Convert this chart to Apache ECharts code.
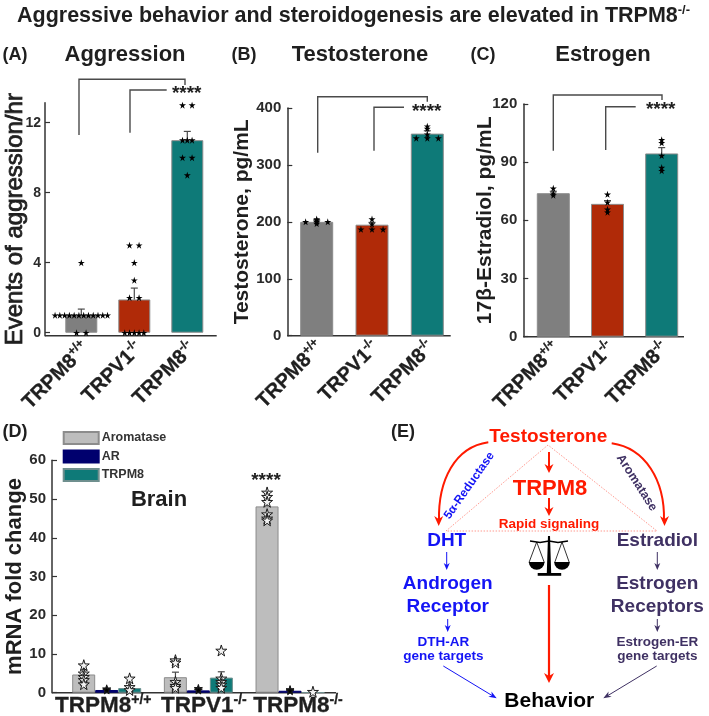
<!DOCTYPE html>
<html><head><meta charset="utf-8">
<style>html,body{margin:0;padding:0;background:#fff}#c{width:709px;height:716px}</style>
<script src="https://cdn.jsdelivr.net/npm/echarts@6/dist/echarts.min.js"></script>
</head><body><div id="c"></div>
<script>
// ---------- data ----------
const genotypes = ['TRPM8', 'TRPV1', 'TRPM8'];
const genotypeSup = ['+/+', '-/-', '-/-'];
const mainTitle = 'Aggressive behavior and steroidogenesis are elevated in ';

const aggressionMeans = [1, 1.9, 11];
const aggressionErrs = [0.35, 0.65, 0.5];
const aggressionWt = [4, 1, 1, 1, 1, 1, 1, 1, 1, 1, 1, 1, 1, 0, 0];
const aggressionV1 = [5, 5, 4, 3, 2, 2, 0, 0, 0, 0, 0];
const aggressionM8 = [13, 13, 11, 11, 11, 10, 10, 9];

const testosteroneMeans = [200, 195, 355];
const testosteroneErrs = [3, 4, 5];
const testosteroneWt = [205, 203, 200, 200, 200, 197];
const testosteroneV1 = [205, 196, 187, 187, 187];
const testosteroneM8 = [368, 364, 354, 347, 347, 347];

const estrogenMeans = [74, 68.5, 94.5];
const estrogenErrs = [1, 1.7, 3];
const estrogenWt = [76.5, 74, 73];
const estrogenV1 = [73.4, 69.3, 65.7, 64.2];
const estrogenM8 = [101.5, 100, 93.4, 87.2, 85.6];

const aromataseMeans = [4.7, 4.0, 48.1];
const aromataseErrs = [1.2, 1.3, 1.5];
const arMeans = [0.7, 0.6, 0.5];
const arErrs = [0.2, 0.2, 0.1];
const trpm8Means = [1.2, 3.9, 0.1];
const trpm8Errs = [0.6, 1.5, 0.05];
const aromataseStars = [[7.1, 5, 4.1, 3.3, 2.2], [8.4, 7.8, 2.8, 1.8, 1.3], [51.7, 50.6, 49.3, 46.1, 45, 44.5]];
const arStars = [[1, 0.7], [1.1, 0.7], [0.8, 0.5]];
const trpm8Stars = [[3.7, 1.5, 0.7], [10.9, 3.7, 2.8, 2.1, 1.3], [0.25]];

// ---------- style ----------
const FONT = '"Liberation Sans", Arial, sans-serif';
const INK = '#1f1f1f', LINE = '#4a4a4a';
const GENO_COLORS = ['#7f7f7f', '#b02a08', '#0e7a78'];
const STAR = 'path://M50 0L61 35L98 35L68 57L79 91L50 70L21 91L32 57L2 35L39 35Z';
const RED = '#ff1a00', BLUE = '#1414f5', PURPLE = '#3f3163';

const grids = [], xAxes = [], yAxes = [], series = [];
const POINT_AXIS_BASE = 4; // hidden 0..2 value x axes used by error bars and points

function errSeries(i, pts, capPx) {
  return {
    type: 'custom', xAxisIndex: POINT_AXIS_BASE + i, yAxisIndex: i, z: 4, silent: true,
    data: pts,
    renderItem(p, api) {
      const x = api.value(0), v = api.value(1), e = api.value(2);
      const a = api.coord([x, v]), b = api.coord([x, v + e]);
      const st = { stroke: LINE, lineWidth: 1.2 };
      return { type: 'group', children: [
        { type: 'line', shape: { x1: a[0], y1: a[1], x2: b[0], y2: b[1] }, style: st },
        { type: 'line', shape: { x1: b[0] - capPx, y1: b[1], x2: b[0] + capPx, y2: b[1] }, style: st }
      ] };
    }
  };
}
function swarm(group, vals, gap) {
  const counts = {}, seen = {};
  vals.forEach(v => counts[v] = (counts[v] || 0) + 1);
  return vals.map(v => {
    const k = seen[v] = (seen[v] || 0) + 1;
    const spacing = counts[v] === 2 ? gap * 2 : gap; // pairs leave the centre slot empty
    return [group + (k - 1 - (counts[v] - 1) / 2) * spacing, v];
  });
}
function labelRich(size, supSize) {
  const base = { fontFamily: FONT, fontWeight: 'bold', color: INK, textBorderColor: INK, textBorderWidth: 0.3, lineHeight: size + 4 };
  return {
    b: Object.assign({ fontSize: size }, base),
    s: Object.assign({ fontSize: supSize, verticalAlign: 'top' }, base)
  };
}
const overlays = [];
function panel(i, cfg) {
  const bandLeft = cfg.c0 - cfg.step / 2;
  grids.push({ left: bandLeft, top: cfg.top, width: cfg.step * 3, height: cfg.bottom - cfg.top, outerBoundsMode: 'none' });
  xAxes.push({
    type: 'category', gridIndex: i, position: 'bottom',
    data: genotypes.map((n, k) => n + genotypeSup[k]),
    axisLine: { show: false }, axisTick: { show: false },
    axisLabel: Object.assign({
      interval: 0, showMinLabel: true, showMaxLabel: true,
      formatter: (v, k) => `{b|${genotypes[k]}}{s|${genotypeSup[k]}}`,
      rich: labelRich(cfg.labelSize, cfg.supSize)
    }, cfg.xLabel)
  });
  overlays.push([[cfg.left, cfg.bottom], [cfg.right, cfg.bottom]]);
  yAxes.push({
    type: 'value', gridIndex: i, min: cfg.yMin, max: cfg.yMax, splitLine: { show: false },
    offset: bandLeft - cfg.left,
    name: cfg.yName, nameLocation: 'middle', nameGap: cfg.nameGap, nameRotate: 90, nameMoveOverlap: false,
    nameTextStyle: Object.assign({ fontFamily: FONT, fontSize: cfg.nameSize, fontWeight: 'bold', color: INK }, cfg.nameStyle),
    axisLine: { show: true, onZero: false, lineStyle: { color: '#333', width: 1.5 } },
    axisTick: { show: true, inside: true, length: 5, customValues: cfg.ticks, lineStyle: { color: '#333', width: 1.2 } },
    axisLabel: Object.assign({ customValues: cfg.ticks, fontFamily: FONT, fontSize: 15, fontWeight: 'bold', color: '#2a2a2a', margin: 6, showMinLabel: true, showMaxLabel: true }, cfg.tickLabel)
  });
}
function genotypePanel(i, cfg) {
  panel(i, cfg);
  series.push({
    type: 'bar', name: cfg.yName, xAxisIndex: i, yAxisIndex: i, barWidth: cfg.barWidth, z: 2,
    data: cfg.means.map((m, g) => ({ value: m, itemStyle: { color: GENO_COLORS[g], borderColor: '#8c8c8c', borderWidth: 1 } }))
  });
  series.push(errSeries(i, cfg.means.map((m, g) => [g, m, cfg.errs[g]]), 3.5));
  series.push({
    type: 'scatter', xAxisIndex: POINT_AXIS_BASE + i, yAxisIndex: i, z: 5, silent: true, symbol: STAR, symbolSize: cfg.starSize,
    itemStyle: { color: '#000', opacity: 1 },
    data: [].concat(...cfg.points.map((vals, g) => swarm(g, vals, cfg.gap)))
  });
}

genotypePanel(0, {
  left: 45, right: 216.7, top: 102.7, bottom: 335.7, c0: 81.3, step: 53, barWidth: 32,
  yMin: -0.17, yMax: 13.14, ticks: [0, 4, 8, 12], yName: 'Events of aggression/hr', nameGap: 17.5, nameSize: 24,
  nameStyle: { fontWeight: 'normal', textBorderColor: INK, textBorderWidth: 0.8 },
  tickLabel: { fontSize: 14, margin: 4 },
  labelSize: 20, supSize: 12, xLabel: { rotate: 45, margin: 5, padding: [14, 0, 0, 0] },
  means: aggressionMeans, errs: aggressionErrs, points: [aggressionWt, aggressionV1, aggressionM8], gap: 0.09, starSize: 7
});
genotypePanel(1, {
  left: 287.3, right: 450.7, top: 108, bottom: 335.7, c0: 316.7, step: 55.3, barWidth: 33,
  yMin: 0, yMax: 400, ticks: [0, 100, 200, 300, 400], yName: 'Testosterone, pg/mL', nameGap: 35, nameSize: 21,
  labelSize: 20, supSize: 12, xLabel: { rotate: 45, margin: 5, padding: [11, 0, 0, 0] },
  means: testosteroneMeans, errs: testosteroneErrs, points: [testosteroneWt, testosteroneV1, testosteroneM8], gap: 0.2, starSize: 7
});
genotypePanel(2, {
  left: 523.3, right: 684, top: 104, bottom: 336.7, c0: 553.3, step: 54.2, barWidth: 33,
  yMin: 0, yMax: 120, ticks: [0, 30, 60, 90, 120], yName: '17β-Estradiol, pg/mL', nameGap: 28, nameSize: 21,
  labelSize: 20, supSize: 12, xLabel: { rotate: 45, margin: 5, padding: [11, 0, 0, 0] },
  means: estrogenMeans, errs: estrogenErrs, points: [estrogenWt, estrogenV1, estrogenM8], gap: 0.2, starSize: 7
});

// Panel D
const brainLabelPad = [[0, 7], [11, 0], [16, 0]];
panel(3, {
  left: 52, right: 336, top: 460.3, bottom: 692.7, c0: 106.7, step: 91.67,
  yMin: 0, yMax: 60, ticks: [0, 10, 20, 30, 40, 50, 60], yName: 'mRNA fold change', nameGap: 26, nameSize: 22,
  labelSize: 23, supSize: 14,
  xLabel: {
    rotate: 0, margin: 0,
    formatter: (v, k) => `{p${k}|${genotypes[k]}}{q${k}|${genotypeSup[k]}}`,
    rich: (() => {
      const r = {}, base = labelRich(22.5, 14);
      brainLabelPad.forEach(([l, rr], k) => {
        r['p' + k] = Object.assign({}, base.b, { padding: [0, 0, 0, l] });
        r['q' + k] = Object.assign({}, base.s, { padding: [0, rr, 0, 0] });
      });
      return r;
    })()
  }
});
const brainSeries = [
  ['Aromatase', aromataseMeans, aromataseErrs, aromataseStars, '#bdbdbd', '#8c8c8c', -0.25, 11, '#f2f2f2'],
  ['AR', arMeans, arErrs, arStars, '#00006e', '#00006e', 0, 8, '#000'],
  ['TRPM8', trpm8Means, trpm8Errs, trpm8Stars, '#0e7a78', '#6f8f8e', 0.25, 11, '#f2f2f2']
];
brainSeries.forEach(([name, means, errs, stars, color, border, shift, size, fill]) => {
  series.push({
    type: 'bar', name, xAxisIndex: 3, yAxisIndex: 3, barWidth: 23, barGap: 0, z: 2,
    itemStyle: { color, borderColor: border, borderWidth: 1 },
    data: means
  });
  series.push(errSeries(3, means.map((m, g) => [g + shift, m, errs[g]]), 3.5));
  series.push({
    type: 'scatter', xAxisIndex: POINT_AXIS_BASE + 3, yAxisIndex: 3, z: 5, silent: true, symbol: STAR, symbolSize: size,
    itemStyle: { color: fill, borderColor: '#1a1a1a', borderWidth: 1, opacity: 1 },
    data: [].concat(...stars.map((vals, g) => vals.map(v => [g + shift, v])))
  });
});
// hidden numeric twins of the category axes so points can sit off-centre
for (let i = 0; i < 4; i++) {
  xAxes.push({ type: 'value', gridIndex: i, min: -0.5, max: 2.5, show: false, position: 'bottom', splitLine: { show: false } });
}

// ---------- titles ----------
function t(text, x, y, size, color, align) {
  return { text, left: x, top: y - size * 0.5, textAlign: align || 'center', padding: 0, textStyle: { fontFamily: FONT, fontSize: size, fontWeight: 'bold', color: color || INK } };
}
const titles = [
  { text: `{b|${mainTitle}TRPM8}{s|-/-}`, left: 17, top: 4, padding: 0,
    textStyle: { rich: { b: { fontFamily: FONT, fontSize: 21.5, fontWeight: 'bold', color: INK, lineHeight: 24 }, s: { fontFamily: FONT, fontSize: 13, fontWeight: 'bold', color: INK, verticalAlign: 'top', lineHeight: 24 } } } },
  t('(A)', 15, 55, 18), t('Aggression', 125, 55, 22),
  t('(B)', 244, 55, 18), t('Testosterone', 360, 55, 22),
  t('(C)', 483, 55, 18), t('Estrogen', 603, 55, 22),
  t('(D)', 15, 432, 18), t('Brain', 159, 500, 22),
  t('(E)', 403, 432, 18)
];

// ---------- annotations and panel E ----------
const g = [];
function poly(points, stroke, w) { g.push({ type: 'polyline', silent: true, shape: { points }, style: { stroke: stroke || LINE, fill: null, lineWidth: w || 1.4 } }); }
function txt(text, x, y, size, color, rotation) {
  g.push({ type: 'text', silent: true, x, y, rotation: rotation || 0, style: { text, fontFamily: FONT, fontSize: size, fontWeight: 'bold', fill: color || INK, align: 'center', verticalAlign: 'middle' } });
}
function head(x, y, ang, len, wid, color) {
  const c = Math.cos(ang), s = Math.sin(ang);
  g.push({ type: 'polygon', silent: true, shape: { points: [[x, y], [x - len * c + wid * s, y - len * s - wid * c], [x - len * 0.7 * c, y - len * 0.7 * s], [x - len * c - wid * s, y - len * s + wid * c]] }, style: { fill: color } });
}
function arrow(x1, y1, x2, y2, color, w, len, wid) {
  const ang = Math.atan2(y2 - y1, x2 - x1);
  poly([[x1, y1], [x2 - Math.cos(ang) * len * 0.6, y2 - Math.sin(ang) * len * 0.6]], color, w);
  head(x2, y2, ang, len, wid, color);
}
// x baselines, running past the category bands to the y axis
overlays.forEach(p => poly(p, '#333', 1.5));
// significance brackets
poly([[79, 135], [79, 79.3], [185, 79.3], [185, 85]]); poly([[130, 132.7], [130, 90], [166.7, 90]]);
txt('****', 186.7, 93.5, 19);
poly([[317.7, 152.7], [317.7, 96.7], [427.3, 96.7], [427.3, 101.7]]); poly([[374, 150.7], [374, 107.3], [404, 107.3]]);
txt('****', 426.7, 112, 19);
poly([[553.3, 150.7], [553.3, 95], [662, 95], [662, 100]]); poly([[605.7, 150], [605.7, 106.7], [635.7, 106.7]]);
txt('****', 660.7, 110, 19);
txt('****', 266, 481, 19);

// panel E texts
txt('Testosterone', 548.3, 437, 19, RED);
txt('TRPM8', 550, 489, 22, RED);
txt('Rapid signaling', 549, 524, 13.5, RED);
txt('DHT', 446.7, 541, 19, BLUE);
txt('Androgen', 447.7, 583.3, 19, BLUE);
txt('Receptor', 447.7, 606.7, 19, BLUE);
txt('DTH-AR', 443.3, 642.3, 13.5, BLUE);
txt('gene targets', 443.3, 656, 13.5, BLUE);
txt('Estradiol', 657.3, 540.5, 19, PURPLE);
txt('Estrogen', 657.3, 583.3, 19, PURPLE);
txt('Receptors', 657.3, 606.7, 19, PURPLE);
txt('Estrogen-ER', 657.3, 642.3, 13.5, PURPLE);
txt('gene targets', 657.3, 656, 13.5, PURPLE);
txt('Behavior', 549.3, 701, 21, '#000');
txt('5α-Reductase', 469.3, 485.7, 12, BLUE, 0.96);
txt('Aromatase', 636.7, 482.7, 12.5, PURPLE, -1.0);

// dotted triangle
g.push({ type: 'polygon', silent: true, shape: { points: [[548, 445], [446, 531], [657, 531]] }, style: { fill: null, stroke: '#ff9a90', lineWidth: 1, lineDash: [1.5, 1.5] } });
// curved arrows
g.push({ type: 'bezierCurve', silent: true, shape: { x1: 488.3, y1: 442.3, x2: 439, y2: 521, cpx1: 455, cpy1: 447, cpx2: 438, cpy2: 480 }, style: { stroke: RED, fill: null, lineWidth: 2 } });
head(438.7, 526, Math.PI / 2, 10, 4.5, RED);
g.push({ type: 'bezierCurve', silent: true, shape: { x1: 611.7, y1: 443.3, x2: 664, y2: 521, cpx1: 645, cpy1: 448, cpx2: 665, cpy2: 480 }, style: { stroke: RED, fill: null, lineWidth: 2 } });
head(664.5, 526, Math.PI / 2, 10, 4.5, RED);
// straight arrows
arrow(549, 452, 549, 473, RED, 2, 9, 4.5);
arrow(549, 498, 549, 516, RED, 2, 9, 4.5);
arrow(549, 585, 549, 683, RED, 2.2, 10, 5);
arrow(446.7, 552, 446.7, 570, BLUE, 1, 7, 3);
arrow(447.7, 619, 447.7, 632, BLUE, 1, 7, 3);
arrow(443.3, 666, 496.7, 698.3, BLUE, 1, 8, 3);
arrow(657.3, 552, 657.3, 570, PURPLE, 1, 7, 3);
arrow(657.3, 619, 657.3, 632, PURPLE, 1, 7, 3);
arrow(656.7, 666, 603.3, 698.3, PURPLE, 1, 8, 3);
// balance scale
poly([[530, 541], [540, 542.5], [549, 541], [558, 542.5], [568, 541]], '#000', 1.6);
g.push({ type: 'polygon', silent: true, shape: { points: [[548, 536], [550, 536], [551.2, 573], [546.8, 573]] }, style: { fill: '#000' } });
g.push({ type: 'rect', silent: true, shape: { x: 537.7, y: 573, width: 23.5, height: 2.8 }, style: { fill: '#000' } });
poly([[529, 562.5], [536.7, 542], [544.3, 562.5]], '#000', 0.8);
poly([[554.7, 562.5], [562, 542], [569.3, 562.5]], '#000', 0.8);
g.push({ type: 'sector', silent: true, shape: { cx: 536.7, cy: 562, r: 7.8, r0: 0, startAngle: 0, endAngle: Math.PI }, style: { fill: '#000' } });
g.push({ type: 'sector', silent: true, shape: { cx: 562, cy: 562, r: 7.8, r0: 0, startAngle: 0, endAngle: Math.PI }, style: { fill: '#000' } });

const chart = echarts.init(document.getElementById('c'), null, { renderer: 'canvas' });
chart.setOption({
  animation: false, backgroundColor: '#fff',
  title: titles, grid: grids, xAxis: xAxes, yAxis: yAxes, series, graphic: g,
  legend: {
    data: ['Aromatase', 'AR', 'TRPM8'], orient: 'vertical', left: 62.7, top: 431, itemWidth: 35, itemHeight: 12, itemGap: 4.5, padding: 0, icon: 'rect',
    textStyle: { fontFamily: FONT, fontSize: 12.5, fontWeight: 'bold', color: '#333', padding: [0, 0, 0, -2] }
  }
});
</script></body></html>
